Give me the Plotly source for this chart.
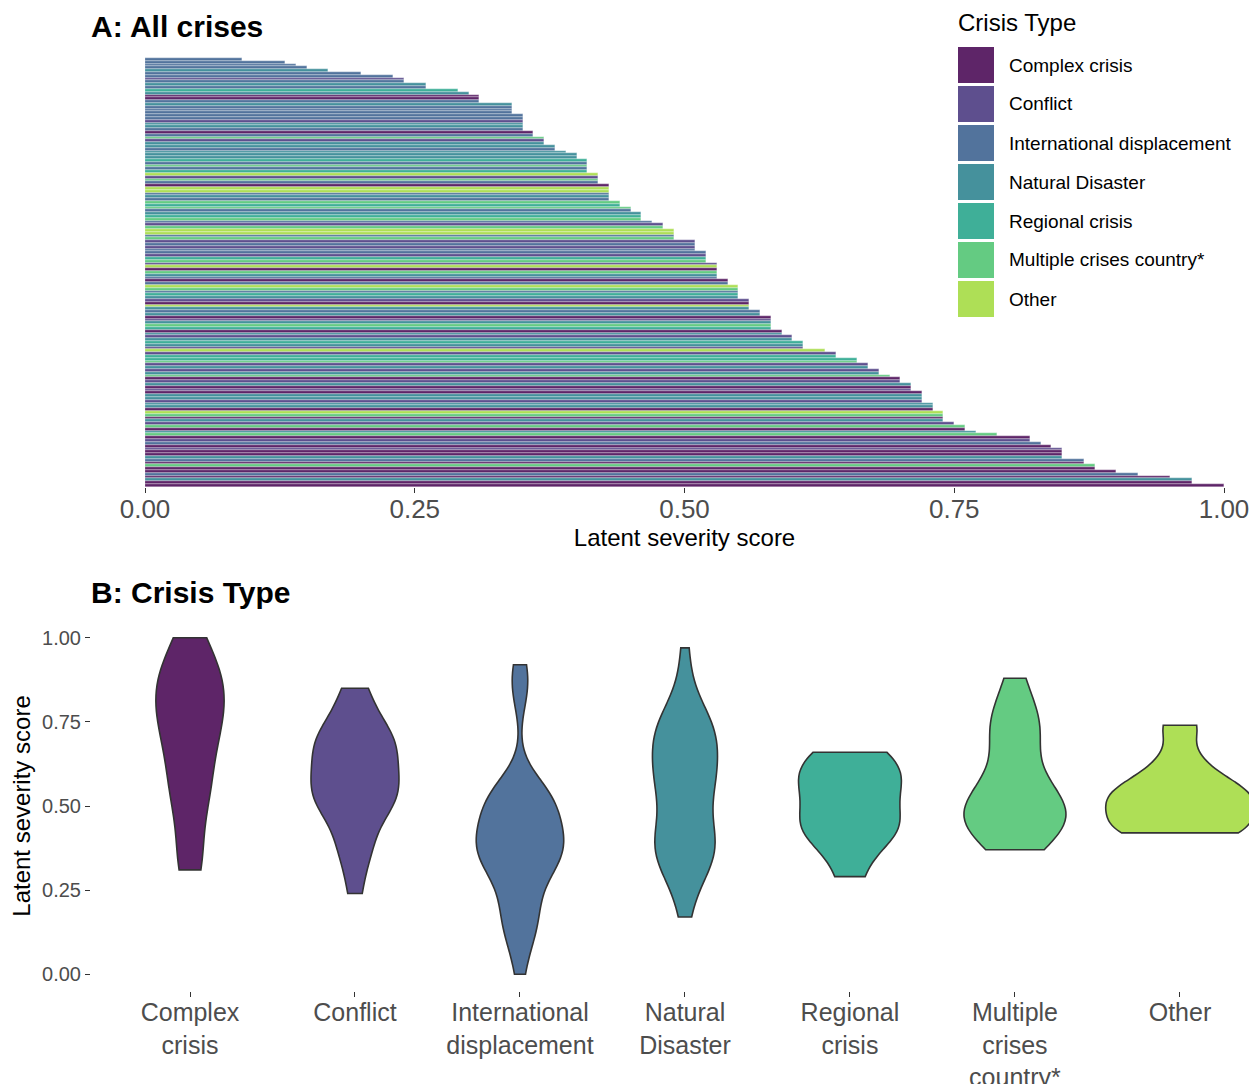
import numpy as np
import plotly.graph_objects as go

# ---------------- data ----------------
TYPE_NAMES = ["Complex crisis", "Conflict", "International displacement", "Natural Disaster",
              "Regional crisis", "Multiple crises country*", "Other"]
TYPE_CODES = ["C", "F", "I", "N", "R", "M", "O"]
TYPE_COLORS = ["#5E2568", "#5E4F8E", "#52739C", "#45919C", "#3FAF98", "#64CB82", "#AEDF56"]
TICK_LABELS_B = ["Complex<br>crisis", "Conflict", "International<br>displacement", "Natural<br>Disaster",
                 "Regional<br>crisis", "Multiple<br>crises<br>country*", "Other"]
SCORE_TICKS = [0.0, 0.25, 0.5, 0.75, 1.0]
SCORE_TICK_TEXT = ["0.00", "0.25", "0.50", "0.75", "1.00"]

# latent severity score per crisis (sorted ascending) and crisis type
scores = [
    0.00, 0.09, 0.13, 0.14, 0.15, 0.17, 0.20, 0.23,
    0.24, 0.24,
    0.26, 0.26,
    0.29, 0.30,
    0.31, 0.31, 0.31,
    0.34, 0.34, 0.34, 0.34,
    0.35, 0.35, 0.35, 0.35, 0.35, 0.35,
    0.36, 0.36,
    0.37, 0.37, 0.37,
    0.38, 0.38,
    0.39,
    0.40, 0.40,
    0.41, 0.41, 0.41, 0.41, 0.41,
    0.42, 0.42, 0.42, 0.42,
    0.43, 0.43, 0.43, 0.43, 0.43, 0.43,
    0.44, 0.44,
    0.45, 0.45,
    0.46, 0.46, 0.46,
    0.47,
    0.48, 0.48,
    0.49, 0.49, 0.49, 0.49,
    0.51, 0.51, 0.51, 0.51,
    0.52, 0.52, 0.52, 0.52,
    0.53, 0.53, 0.53, 0.53, 0.53, 0.53,
    0.54, 0.54,
    0.55, 0.55, 0.55, 0.55, 0.55,
    0.56, 0.56, 0.56, 0.56,
    0.57, 0.57,
    0.58, 0.58, 0.58, 0.58, 0.58,
    0.59, 0.59,
    0.60, 0.60,
    0.61, 0.61, 0.61,
    0.63,
    0.64, 0.64,
    0.66, 0.66,
    0.67, 0.67,
    0.68, 0.68,
    0.69,
    0.70, 0.70,
    0.71, 0.71, 0.71,
    0.72, 0.72, 0.72, 0.72,
    0.73, 0.73, 0.73,
    0.74, 0.74, 0.74, 0.74,
    0.75,
    0.76, 0.76,
    0.77,
    0.79,
    0.82, 0.82,
    0.83,
    0.84,
    0.85, 0.85, 0.85, 0.85,
    0.87, 0.87,
    0.88, 0.88,
    0.90,
    0.92,
    0.95,
    0.97, 0.97,
    1.00,
]
types = [
    "I", "I", "I", "I", "I", "N", "I", "I",
    "F", "I",
    "N", "I",
    "R", "N",
    "C", "C", "I",
    "N", "I", "I", "I",
    "I", "I", "F", "N", "N", "I",
    "C", "I",
    "M", "F", "N",
    "N", "I",
    "N",
    "N", "N",
    "R", "I", "M", "I", "R",
    "O", "F", "M", "I",
    "C", "O", "O", "I", "N", "I",
    "M", "R",
    "M", "I",
    "N", "R", "M",
    "I",
    "F", "M",
    "O", "O", "I", "M",
    "F", "I", "F", "I",
    "I", "F", "R", "M",
    "F", "O", "C", "M", "N", "I",
    "C", "I",
    "O", "M", "I", "R", "N",
    "F", "C", "O", "N",
    "I", "N",
    "C", "F", "N", "M", "R",
    "C", "N",
    "F", "N",
    "R", "N", "F",
    "O",
    "F", "R",
    "R", "M",
    "F", "N",
    "F", "N",
    "M",
    "C", "F",
    "N", "C", "F",
    "C", "N", "N", "F",
    "N", "N", "C",
    "O", "M", "C", "N",
    "F",
    "M", "C",
    "N",
    "M",
    "C", "F",
    "I",
    "C",
    "F", "C", "C", "N",
    "I", "C",
    "M", "C",
    "C",
    "I",
    "C",
    "N", "C",
    "C",
]

# ---------------- layout helpers ----------------
# the page body adds an 8 px margin; the figure fills the rest of the 1257x1084 window
OFF = 8
W, H = 1257 - OFF, 1084 - OFF
FONT = "Liberation Sans, Arial, Helvetica, sans-serif"
TICK_GREY = "#4d4d4d"
color_of = dict(zip(TYPE_CODES, TYPE_COLORS))


def fx(p):
    return (p - OFF) / W


def fy(p):
    return 1 - (p - OFF) / H


fig = go.Figure()

# ---------------- Panel A: bars ----------------
n = len(scores)
fig.add_trace(go.Bar(
    x=scores, y=list(range(n)), orientation="h",
    marker=dict(color=[color_of[t] for t in types], line=dict(color="white", width=0.3)),
    width=1.0, showlegend=False, xaxis="x", yaxis="y",
))

# ---------------- Panel B: violins ----------------
def nrd0(v):
    v = np.asarray(v, float)
    sd = v.std(ddof=1)
    iqr = np.subtract(*np.percentile(v, [75, 25]))
    lo = min(sd, iqr / 1.34) if iqr > 0 else sd
    return 0.9 * lo * len(v) ** (-0.2)


def peak_density(v, bw):
    v = np.asarray(v, float)
    grid = np.linspace(v.min(), v.max(), 512)
    d = np.exp(-0.5 * ((grid[:, None] - v[None, :]) / bw) ** 2).sum(axis=1) / (len(v) * bw * np.sqrt(2 * np.pi))
    return d.max()


groups = []
for code in TYPE_CODES:
    vals = [s for s, t in zip(scores, types) if t == code]
    bw = nrd0(vals)
    groups.append((vals, bw, peak_density(vals, bw)))
max_peak = max(g[2] for g in groups)

for i, (code, (vals, bw, pk)) in enumerate(zip(TYPE_CODES, groups)):
    fig.add_trace(go.Violin(
        y=vals, x=[i] * len(vals), name=TYPE_NAMES[i],
        bandwidth=bw, spanmode="hard", scalemode="width", width=0.9 * pk / max_peak,
        fillcolor=color_of[code], line=dict(color="#333333", width=1.6), opacity=1,
        points=False, box_visible=False, meanline_visible=False,
        showlegend=False, xaxis="x2", yaxis="y2",
    ))

# ---------------- legend (custom, large keys) ----------------
shapes = []
annotations = []
annotations.append(dict(text="Crisis Type", x=fx(956), y=fy(23), xref="paper", yref="paper",
                        xanchor="left", yanchor="middle", showarrow=False,
                        font=dict(family=FONT, size=24, color="black")))
for i, (name, col) in enumerate(zip(TYPE_NAMES, TYPE_COLORS)):
    top = 47 + 39 * i
    shapes.append(dict(type="rect", xref="paper", yref="paper", x0=fx(958), x1=fx(994),
                       y0=fy(top + 36), y1=fy(top), fillcolor=col, line=dict(width=0)))
    annotations.append(dict(text=name, x=fx(1007), y=fy(top + 18), xref="paper", yref="paper",
                            xanchor="left", yanchor="middle", showarrow=False,
                            font=dict(family=FONT, size=19, color="black")))

# panel titles
annotations.append(dict(text="<b>A: All crises</b>", x=fx(89), y=fy(26), xref="paper", yref="paper",
                        xanchor="left", yanchor="middle", showarrow=False,
                        font=dict(family=FONT, size=30, color="black")))
annotations.append(dict(text="<b>B: Crisis Type</b>", x=fx(89), y=fy(592), xref="paper", yref="paper",
                        xanchor="left", yanchor="middle", showarrow=False,
                        font=dict(family=FONT, size=30, color="black")))

axis_common = dict(showgrid=False, zeroline=False, showline=False, ticks="outside", ticklen=5,
                   tickwidth=1.3, tickcolor="#333333", automargin=False)

fig.update_layout(
    width=W, height=H,
    margin=dict(l=0, r=0, t=0, b=0, autoexpand=False),
    paper_bgcolor="white", plot_bgcolor="white",
    font=dict(family=FONT),
    bargap=0, barmode="overlay", violinmode="overlay",
    shapes=shapes, annotations=annotations,
    xaxis=dict(domain=[fx(145), fx(1224)], range=[0, 1], anchor="y",
               tickvals=SCORE_TICKS, ticktext=SCORE_TICK_TEXT,
               tickfont=dict(size=26, color=TICK_GREY, family=FONT), ticklabelstandoff=-6,
               title=dict(text="Latent severity score", font=dict(size=24, color="black", family=FONT),
                          standoff=4),
               **axis_common),
    yaxis=dict(domain=[fy(487), fy(55)], range=[n - 1 + 0.6, -0.6], anchor="x", visible=False,
               automargin=False),
    xaxis2=dict(domain=[fx(91), 1.0], range=[-0.6, 6.467], anchor="y2",
                tickvals=list(range(7)), ticktext=TICK_LABELS_B,
                tickfont=dict(size=25, color=TICK_GREY, family=FONT), ticklabelstandoff=-6,
                **axis_common),
    yaxis2=dict(domain=[fy(991), fy(621)], range=[-0.05, 1.05], anchor="x2",
                tickvals=SCORE_TICKS, ticktext=SCORE_TICK_TEXT,
                tickfont=dict(size=20, color=TICK_GREY, family=FONT),
                title=dict(text="Latent severity score", font=dict(size=24, color="black", family=FONT),
                           standoff=8),
                **axis_common),
)

fig.write_html("out.html")
